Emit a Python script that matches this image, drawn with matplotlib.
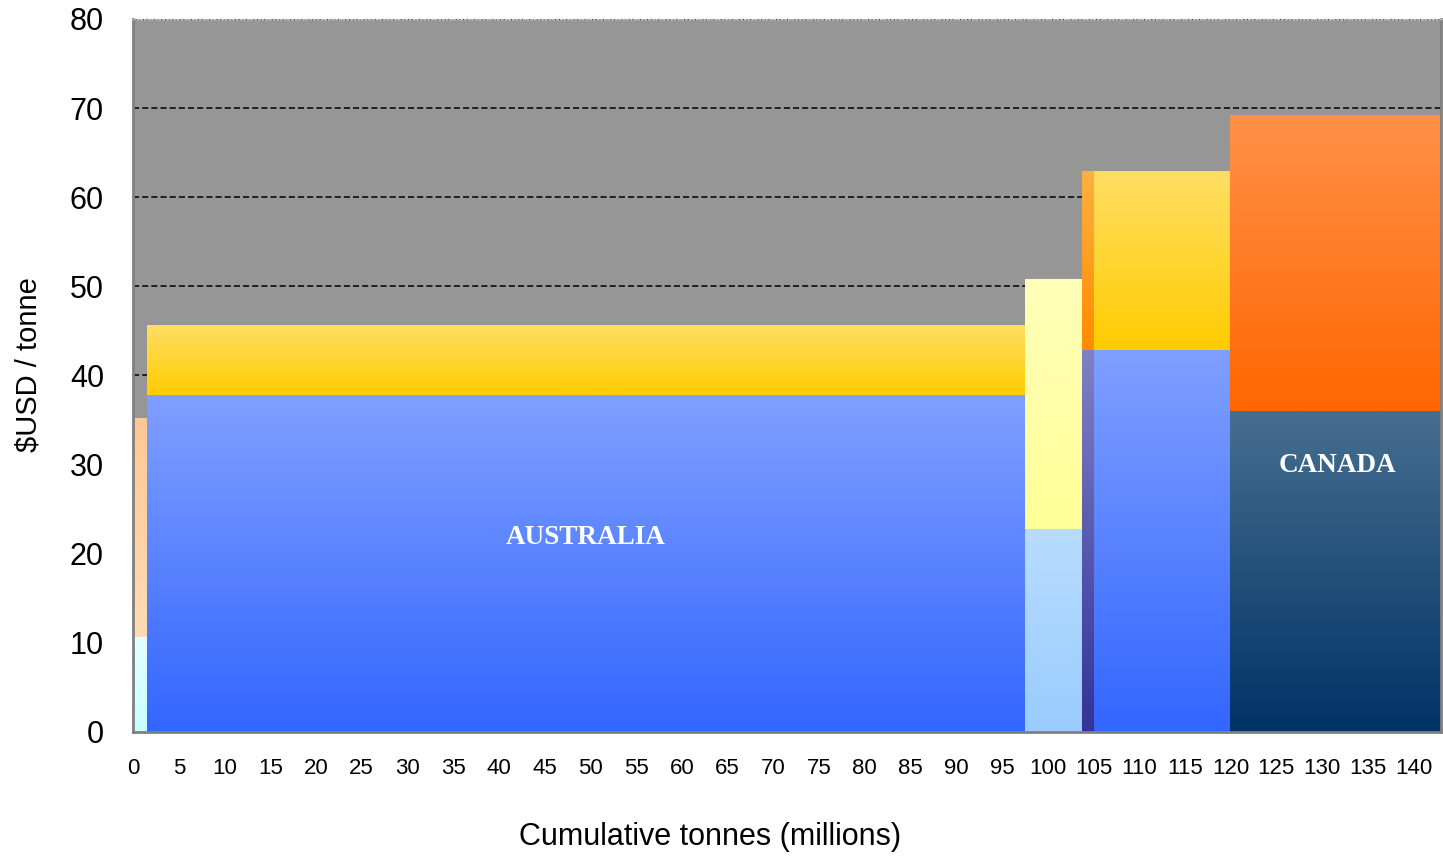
import numpy as np
import matplotlib.pyplot as plt
from matplotlib.colors import LinearSegmentedColormap

# ── data ─────────────────────────────────────────────────────────────
widths = [1.5, 96.0, 6.2, 1.4, 14.8, 23.1]          # million tonnes
base_cost = [10.7, 37.8, 22.8, 42.8, 42.8, 36.0]    # $USD / tonne, lower block
total_cost = [35.2, 45.6, 50.8, 62.9, 62.9, 69.2]   # $USD / tonne, top of upper block
x_ticks = list(range(0, 145, 5))
y_ticks = list(range(0, 90, 10))
region_labels = {"AUSTRALIA": (49.5, 21.8), "CANADA": (131.7, 29.9)}

# gradient colours (top, bottom) for each block
lower_colors = [("#e4ffff", "#c8ffff"), ("#7f9fff", "#3366ff"), ("#b8dcff", "#99ccff"),
                ("#8080c4", "#333399"), ("#7f9fff", "#3366ff"), ("#466e90", "#003366")]
upper_colors = [("#ffc894", "#ffdcb4"), ("#ffde64", "#ffcc00"), ("#ffffb8", "#ffff99"),
                ("#ffb040", "#ff8c00"), ("#ffde64", "#ffcc00"), ("#ff9048", "#ff6600")]

plt.rcParams["font.family"] = ["Liberation Sans", "DejaVu Sans"]

fig = plt.figure(figsize=(14.43, 8.58), dpi=100)
ax = fig.add_axes([0.0922, 0.147, 0.9064, 0.831])
ax.set_facecolor("#969696")

edges = np.concatenate([[0], np.cumsum(widths)[:-1]])
upper_h = np.array(total_cost) - np.array(base_cost)
lower = ax.bar(edges, base_cost, width=widths, align="edge", color="none", zorder=2)
upper = ax.bar(edges, upper_h, bottom=base_cost, width=widths, align="edge",
               color="none", zorder=2)


def fill_gradient(patch, top, bottom):
    x0, y0 = patch.get_x(), patch.get_y()
    x1, y1 = x0 + patch.get_width(), y0 + patch.get_height()
    cmap = LinearSegmentedColormap.from_list("g", [bottom, top])
    grad = np.linspace(0, 1, 256).reshape(-1, 1)
    im = ax.imshow(grad, extent=[x0, x1, y0, y1], origin="lower", aspect="auto",
                   cmap=cmap, zorder=2, interpolation="bilinear")
    im.set_clip_path(patch)


for p, (t, b) in zip(lower.patches, lower_colors):
    fill_gradient(p, t, b)
for p, (t, b) in zip(upper.patches, upper_colors):
    fill_gradient(p, t, b)

for name, (xx, yy) in region_labels.items():
    ax.text(xx, yy, name, color="white", fontsize=19.5, fontweight="bold",
            family="Liberation Serif", ha="center", va="center", zorder=4)

ax.set_xlim(0, sum(widths))
ax.set_ylim(0, 80)
ax.set_xticks(x_ticks)
ax.set_yticks(y_ticks)
ax.tick_params(axis="x", length=0, labelsize=16, pad=19)
ax.tick_params(axis="y", length=0, labelsize=22, pad=21)
ax.yaxis.grid(True, color="black", linestyle=(0, (4, 2)), linewidth=1.1)
ax.set_axisbelow(True)
for s in ax.spines.values():
    s.set_color("#808080")
    s.set_linewidth(2)
ax.spines["top"].set_linestyle(":")
ax.spines["top"].set_color("#c8c8c8")
ax.spines["top"].set_linewidth(1)

ax.set_xlabel("Cumulative tonnes (millions)", fontsize=22)
ax.xaxis.set_label_coords(0.441, -0.126)
ylab = ax.set_ylabel("$USD / tonne", fontsize=21)
ylab.set_va("center")
ax.yaxis.set_label_coords(-0.080, 0.515)

fig.savefig("out.png", dpi=100, facecolor="white")
